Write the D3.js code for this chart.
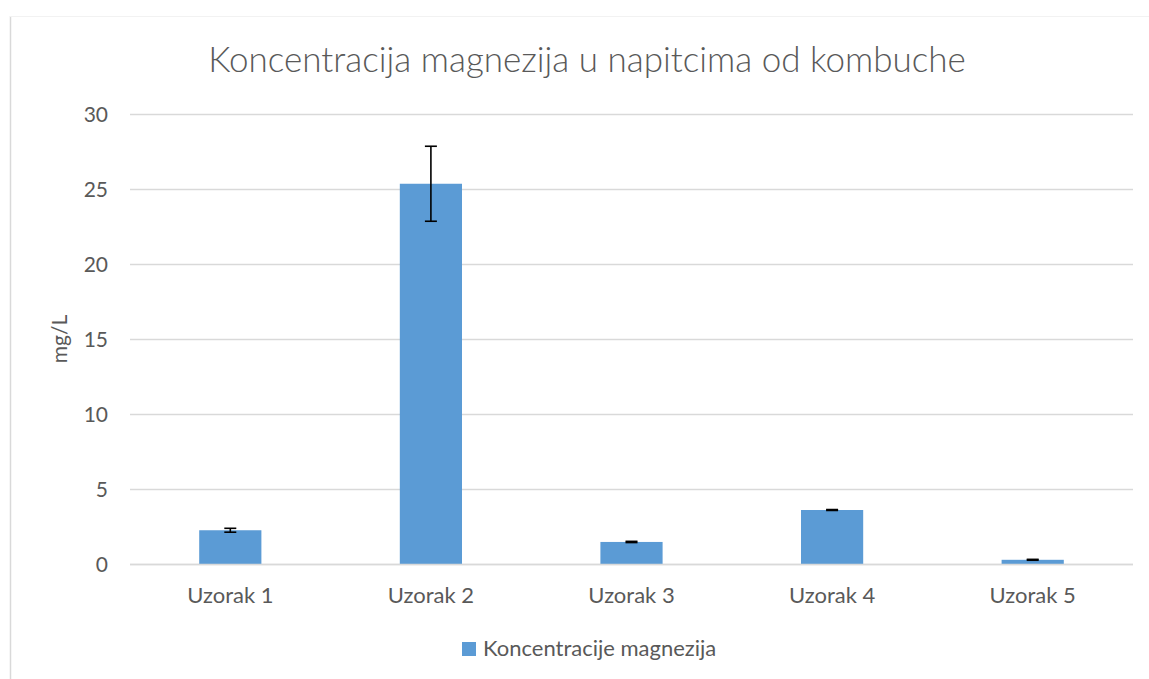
<!DOCTYPE html>
<html>
<head>
<meta charset="utf-8">
<script src="https://cdn.jsdelivr.net/npm/d3@7"></script>
<style>
  html, body { margin: 0; padding: 0; background: #fff; }
  svg { display: block; }
  text { font-family: Lato, "Open Sans", sans-serif; fill: #595959; }
</style>
</head>
<body>
<svg id="chart" width="1149" height="679"></svg>
<script>
const categories = ["Uzorak 1", "Uzorak 2", "Uzorak 3", "Uzorak 4", "Uzorak 5"];
const values = [2.25, 25.35, 1.47, 3.6, 0.28];
const errors = [0.13, 2.5, 0.04, 0.03, 0.03];
const yTicks = [0, 5, 10, 15, 20, 25, 30];
const seriesName = "Koncentracije magnezija";
const titleText = "Koncentracija magnezija u napitcima od kombuche";
const yLabel = "mg/L";

const svg = d3.select("#chart");
const W = 1149, H = 679;

// chart area border
svg.append("line").attr("x1", 10.5).attr("x2", 10.5).attr("y1", 16).attr("y2", H)
  .attr("stroke", "#d9d9d9").attr("stroke-width", 1.5);
svg.append("line").attr("x1", 10).attr("x2", W).attr("y1", 16.5).attr("y2", 16.5)
  .attr("stroke", "#f2f2f2").attr("stroke-width", 1);

const x = d3.scaleBand().domain(categories).range([130, 1133]).paddingInner(0.69).paddingOuter(0.345);
const y = d3.scaleLinear().domain([0, 30]).range([564, 114]);

// gridlines
svg.append("g").selectAll("line").data(yTicks).join("line")
  .attr("x1", 130).attr("x2", 1133)
  .attr("y1", d => Math.round(y(d)) + 0.5).attr("y2", d => Math.round(y(d)) + 0.5)
  .attr("stroke", "#d9d9d9").attr("stroke-width", 1.3);

// y tick labels
const yAxis = d3.axisLeft(y).tickValues(yTicks).tickSize(0).tickPadding(22);
const gy = svg.append("g").attr("transform", "translate(130,0)").call(yAxis);
gy.select(".domain").remove();
gy.selectAll("text").style("font-size", "21px").attr("fill", "#595959")
  .style("font-family", "Lato, 'Open Sans', sans-serif").attr("dy", "0.35em");

// bars
svg.append("g").selectAll("rect").data(values).join("rect")
  .attr("x", (d, i) => x(categories[i]))
  .attr("width", x.bandwidth())
  .attr("y", d => y(d))
  .attr("height", d => y(0) - y(d))
  .attr("fill", "#5b9bd5");

// error bars
const eg = svg.append("g").attr("stroke", "#000").attr("stroke-width", 1.6);
values.forEach((v, i) => {
  const cx = x(categories[i]) + x.bandwidth() / 2;
  const y1 = y(v + errors[i]), y2 = y(v - errors[i]);
  eg.append("line").attr("x1", cx).attr("x2", cx).attr("y1", y1).attr("y2", y2);
  eg.append("line").attr("x1", cx - 6).attr("x2", cx + 6).attr("y1", y1).attr("y2", y1);
  eg.append("line").attr("x1", cx - 6).attr("x2", cx + 6).attr("y1", y2).attr("y2", y2);
});

// x axis baseline
svg.append("line").attr("x1", 130).attr("x2", 1133).attr("y1", 564.5).attr("y2", 564.5)
  .attr("stroke", "#d9d9d9").attr("stroke-width", 1.5);

// x labels
const xAxis = d3.axisBottom(x).tickSize(0).tickPadding(0);
const gx = svg.append("g").attr("transform", "translate(0,564)").call(xAxis);
gx.select(".domain").remove();
gx.selectAll("text").style("font-size", "22px").attr("fill", "#595959")
  .style("font-family", "Lato, 'Open Sans', sans-serif").attr("y", 39).attr("dy", 0);

// title
svg.append("text").attr("x", 587).attr("y", 72).attr("text-anchor", "middle")
  .style("font-size", "35px").style("font-weight", 300).text(titleText);

// y label
svg.append("text").attr("transform", "translate(67,339) rotate(-90)")
  .attr("text-anchor", "middle").style("font-size", "21px").text(yLabel);

// legend
const lg = svg.append("g");
lg.append("rect").attr("x", 462).attr("y", 642).attr("width", 14).attr("height", 14).attr("fill", "#5b9bd5");
lg.append("text").attr("x", 483).attr("y", 656).style("font-size", "22px").text(seriesName);
</script>
</body>
</html>
